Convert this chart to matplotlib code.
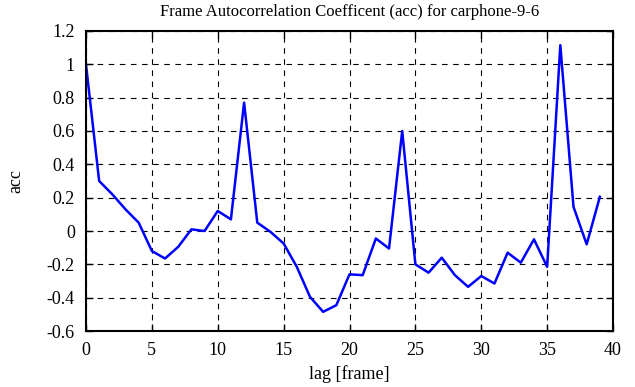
import matplotlib
matplotlib.use("Agg")
import matplotlib.pyplot as plt

# lag values and autocorrelation
lags = list(range(40))
acc = [1.0, 0.30, 0.22, 0.13, 0.05, -0.12, -0.165, -0.095, 0.01, 0.0,
       0.12, 0.07, 0.77, 0.05, -0.005, -0.075, -0.215, -0.395, -0.485, -0.445,
       -0.26, -0.265, -0.045, -0.105, 0.60, -0.20, -0.25, -0.16, -0.265, -0.335,
       -0.27, -0.315, -0.13, -0.19, -0.05, -0.215, 1.115, 0.145, -0.08, 0.205]

xticks = [0, 5, 10, 15, 20, 25, 30, 35, 40]
yticks = [-0.6, -0.4, -0.2, 0, 0.2, 0.4, 0.6, 0.8, 1, 1.2]
ytick_labels = ["-0.6", "-0.4", "-0.2", "0", "0.2", "0.4", "0.6", "0.8", "1", "1.2"]

plt.rcParams["font.family"] = ["Liberation Serif", "DejaVu Serif"]
plt.rcParams["font.size"] = 12

fig = plt.figure(figsize=(6.35, 3.87), dpi=100)
ax = fig.add_axes([0.1354, 0.1447, 0.83, 0.7752])

ax.plot(lags, acc, color="#0000ff", linewidth=1.8)

ax.set_xlim(0, 40)
ax.set_ylim(-0.6, 1.2)
ax.set_xticks(xticks)
ax.set_yticks(yticks)
ax.set_yticklabels(ytick_labels)
ax.grid(True, color="black", linestyle=(0, (5, 5)), linewidth=0.8)
ax.tick_params(direction="in", top=True, right=True, length=5, width=1, labelsize=13)
ax.tick_params(axis="x", pad=8)
ax.tick_params(axis="y", pad=8)
for s in ax.spines.values():
    s.set_linewidth(1.5)

ax.set_xlabel("lag [frame]", fontsize=13, labelpad=4)
ax.set_ylabel("acc", fontsize=13, labelpad=16)
ax.set_title("Frame Autocorrelation Coefficent (acc) for carphone-9-6", fontsize=12, pad=11)

fig.savefig("out.png", dpi=100)
